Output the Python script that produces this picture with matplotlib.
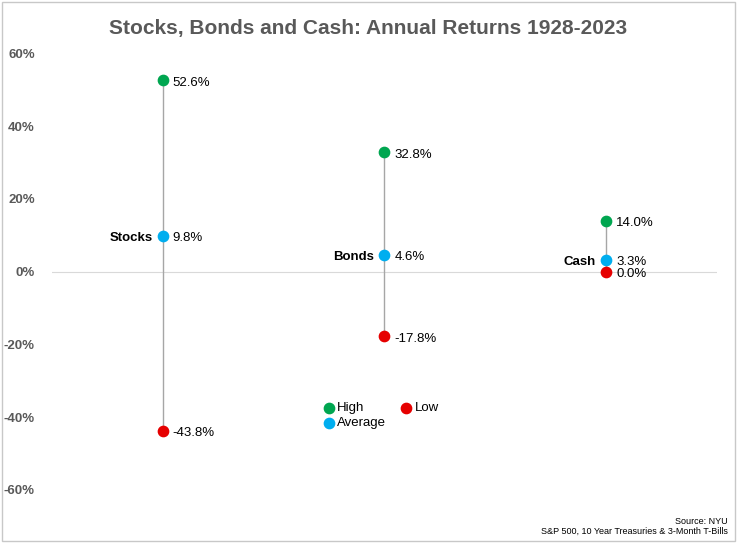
import matplotlib
matplotlib.use("Agg")
import matplotlib.pyplot as plt
from matplotlib.patches import Rectangle

categories = ["Stocks", "Bonds", "Cash"]
high = [52.6, 32.8, 14.0]
avg = [9.8, 4.6, 3.3]
low = [-43.8, -17.8, 0.0]
yticks = [-60, -40, -20, 0, 20, 40, 60]

GREEN = "#00A650"; BLUE = "#00AEEF"; RED = "#E60000"
fig = plt.figure(figsize=(7.37, 5.43), dpi=100)
fig.patches.append(Rectangle((0.003, 0.003), 0.994, 0.994, transform=fig.transFigure,
                             fill=False, edgecolor="#c8c8c8", lw=1))
ax = fig.add_axes([0.07, 0.0645, 0.903, 0.8705])
ax.set_xlim(0, 3)
ax.set_ylim(-65, 65)
ax.axhline(0, color="#d9d9d9", lw=0.8, zorder=0)
for i, c in enumerate(categories):
    x = i + 0.5
    ax.plot([x, x], [low[i], high[i]], color="#a6a6a6", lw=1, zorder=1)
    ax.scatter([x], [high[i]], color=GREEN, s=55, zorder=3, label="High" if i == 0 else None)
    ax.scatter([x], [avg[i]], color=BLUE, s=55, zorder=3, label="Average" if i == 0 else None)
    ax.scatter([x], [low[i]], color=RED, s=55, zorder=3, label="Low" if i == 0 else None)
    for v in (high[i], avg[i], low[i]):
        ax.text(x + 0.045, v - 0.6, f"{v:.1f}%", va="center", ha="left", fontsize=9.5, family="Liberation Sans")
    ax.text(x - 0.045, avg[i] - 0.6, c, va="center", ha="right", fontsize=9.5, fontweight="bold", family="Liberation Sans")
h, l = ax.get_legend_handles_labels()
order = [l.index("High"), l.index("Average"), l.index("Low")]
ax.legend([h[k] for k in order], [l[k] for k in order], ncol=2, frameon=False,
          loc="center", bbox_to_anchor=(0.489, 0.195), prop={"family": "Liberation Sans", "size": 9.5},
          handletextpad=-0.35, columnspacing=0.5, labelspacing=0.2, markerscale=1.0)
ax.set_yticks(yticks)
ax.set_yticklabels([f"{t}%" for t in yticks], fontsize=9.5, fontweight="bold", color="#595959", family="Liberation Sans")
ax.set_xticks([])
ax.tick_params(axis="y", length=0, pad=12)
for s in ax.spines.values():
    s.set_visible(False)
fig.text(0.5, 0.948, "Stocks, Bonds and Cash: Annual Returns 1928-2023", ha="center", va="center",
         fontsize=15, fontweight="bold", color="#595959", family="Liberation Sans")
fig.text(0.988, 0.040, "Source: NYU", ha="right", va="center", fontsize=6.5, family="Liberation Sans")
fig.text(0.988, 0.022, "S&P 500, 10 Year Treasuries & 3-Month T-Bills", ha="right", va="center", fontsize=6.5, family="Liberation Sans")
fig.savefig("out.png", dpi=100)
